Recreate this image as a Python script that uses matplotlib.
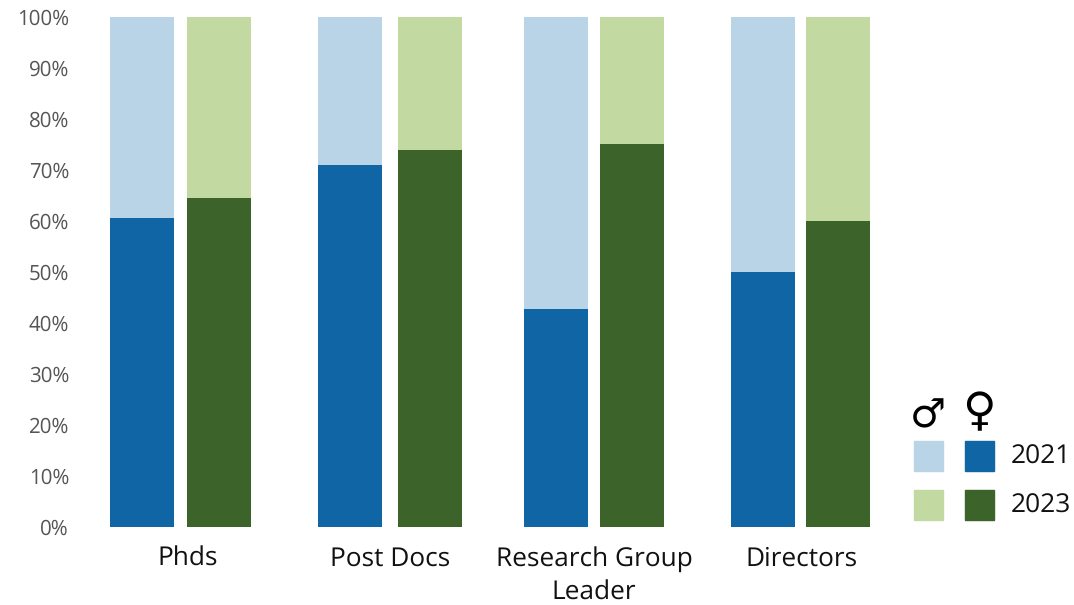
import matplotlib
matplotlib.use('Agg')
import matplotlib.pyplot as plt
from matplotlib.patches import Rectangle

groups = ['Phds', 'Post Docs', 'Research Group\nLeader', 'Directors']
women_2021 = [60.5, 71.0, 42.8, 50]
women_2023 = [64.5, 73.9, 75, 60]
total = [100, 100, 100, 100]
ticks = [0, 10, 20, 30, 40, 50, 60, 70, 80, 90, 100]
legend_years = ['2021', '2023']

c21_dark = '#1065a5'
c21_light = '#b9d3e7'
c23_dark = '#3c6329'
c23_light = '#c3d9a2'

plt.rcParams['font.family'] = ['Open Sans', 'DejaVu Sans']
plt.rcParams['text.hinting'] = 'no_hinting'

W, H = 1074, 605
fig = plt.figure(figsize=(W/100, H/100), dpi=100)

# axes spans x pixels 76..W, y pixels 17..527 for 100..0%
ax = fig.add_axes([76/W, 1-527/H, 1-76/W, 510/H])
ax.set_xlim(76, W)
ax.set_ylim(0, 100)

x21 = [142, 349.7, 556, 762.7]
x23 = [219, 430, 632, 837.7]
bw = 64

for i in range(4):
    ax.bar(x21[i], total[i]-women_2021[i], bw, bottom=women_2021[i], color=c21_light)
    ax.bar(x21[i], women_2021[i], bw, color=c21_dark)
    ax.bar(x23[i], total[i]-women_2023[i], bw, bottom=women_2023[i], color=c23_light)
    ax.bar(x23[i], women_2023[i], bw, color=c23_dark)

ax.set_yticks(ticks)
ax.set_yticklabels([str(t)+'%' for t in ticks], fontsize=14.8, color='#555555')
ax.tick_params(axis='y', length=0, pad=5)

xc = [187.5, 390, 594, 802]
ax.set_xticks(xc)
ax.set_xticklabels(groups, fontsize=18.9, color='#111111', linespacing=1.36)
ax.tick_params(axis='x', length=0, pad=14)
for s in ax.spines.values():
    s.set_visible(False)
ax.patch.set_alpha(0)

# legend
for j, (light, dark) in enumerate([(c21_light, c21_dark), (c23_light, c23_dark)]):
    y0 = 441 + j*49
    fig.add_artist(Rectangle((914/W, 1-(y0+30)/H), 29/W, 30/H, color=light, transform=fig.transFigure))
    fig.add_artist(Rectangle((965/W, 1-(y0+30)/H), 29/W, 30/H, color=dark, transform=fig.transFigure))
    fig.text(1011/W, 1-(y0+16)/H, legend_years[j], ha='left', va='center', fontsize=19, color='#111111')

fig.text(928/W, 1-416/H, '\u2642', ha='center', va='center', fontsize=29, color='black', family='DejaVu Sans')
fig.text(979/W, 1-413/H, '\u2640', ha='center', va='center', fontsize=33, color='black', family='DejaVu Sans')

fig.savefig('out.png', dpi=100)
